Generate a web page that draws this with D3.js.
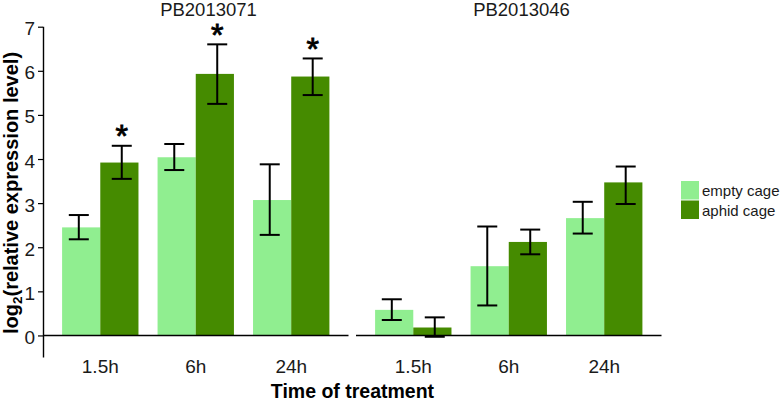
<!DOCTYPE html>
<html>
<head>
<meta charset="utf-8">
<script src="https://cdn.jsdelivr.net/npm/d3@7"></script>
<style>
  html, body { margin: 0; padding: 0; background: #fff; }
  svg { display: block; font-family: "Liberation Sans", Arial, Helvetica, sans-serif; }
</style>
</head>
<body>
<svg id="chart" width="784" height="402"></svg>
<script>
// ---------- data ----------
const genes = ["PB2013071", "PB2013046"];
const times = ["1.5h", "6h", "24h"];
const seriesNames = ["empty cage", "aphid cage"];
const yTicks = [0, 1, 2, 3, 4, 5, 6, 7];

// PB2013071
const g1Empty   = [2.45, 4.04, 3.07];
const g1EmptyLo = [2.18, 3.75, 2.28];
const g1EmptyHi = [2.73, 4.34, 3.88];
const g1Aphid   = [3.92, 5.93, 5.87];
const g1AphidLo = [3.55, 5.25, 5.45];
const g1AphidHi = [4.30, 6.60, 6.28];
const g1AphidSig = ["*", "*", "*"];

// PB2013046
const g2Empty   = [0.58, 1.57, 2.66];
const g2EmptyLo = [0.35, 0.68, 2.31];
const g2EmptyHi = [0.82, 2.47, 3.03];
const g2Aphid   = [0.18, 2.12, 3.47];
const g2AphidLo = [-0.03, 1.84, 2.98];
const g2AphidHi = [0.41, 2.40, 3.83];
const g2AphidSig = ["", "", ""];

const colors = ["#90EE90", "#458B00"];

// build table
function rows(gene, vals, lo, hi, sig, s) {
  return times.map((t, i) => ({ gene, time: t, series: s, value: vals[i], lo: lo[i], hi: hi[i], sig: sig ? sig[i] : "" }));
}
const data = [
  ...rows(genes[0], g1Empty, g1EmptyLo, g1EmptyHi, null, seriesNames[0]),
  ...rows(genes[0], g1Aphid, g1AphidLo, g1AphidHi, g1AphidSig, seriesNames[1]),
  ...rows(genes[1], g2Empty, g2EmptyLo, g2EmptyHi, null, seriesNames[0]),
  ...rows(genes[1], g2Aphid, g2AphidLo, g2AphidHi, g2AphidSig, seriesNames[1])
];

// ---------- layout ----------
const svg = d3.select("#chart");
const y = d3.scaleLinear().domain([-0.5, 7]).range([357.5, 26.7]);
const panelRanges = [[43, 348.5], [356, 661.5]];
const titleX = [208.5, 521.5];
const color = d3.scaleOrdinal().domain(seriesNames).range(colors);

genes.forEach((gene, gi) => {
  const [x0, x1] = panelRanges[gi];
  const x = d3.scaleBand().domain(times).range([x0, x1]).paddingInner(0.2).paddingOuter(0.2);
  const xs = d3.scaleBand().domain(seriesNames).range([0, x.bandwidth()]);
  const step = x.step();
  const errOffset = d3.scaleOrdinal().domain(seriesNames).range([-0.225 * step, 0.225 * step]);
  const g = svg.append("g");
  const pd = data.filter(d => d.gene === gene);

  // bars
  g.selectAll("rect.bar").data(pd).join("rect")
    .attr("class", "bar")
    .attr("x", d => x(d.time) + xs(d.series))
    .attr("width", xs.bandwidth())
    .attr("y", d => Math.min(y(d.value), y(0)))
    .attr("height", d => Math.abs(y(0) - y(d.value)))
    .attr("fill", d => color(d.series));

  // zero line
  g.append("line")
    .attr("x1", x0).attr("x2", x1)
    .attr("y1", y(0)).attr("y2", y(0))
    .attr("stroke", "#000").attr("stroke-width", 1.4);

  // error bars
  const cx = d => x(d.time) + x.bandwidth() / 2 + errOffset(d.series);
  const capW = 10;
  const eb = g.selectAll("g.err").data(pd).join("g").attr("class", "err")
    .attr("stroke", "#000").attr("stroke-width", 2).attr("fill", "none");
  eb.append("line").attr("x1", cx).attr("x2", cx).attr("y1", d => y(d.lo)).attr("y2", d => y(d.hi));
  eb.append("line").attr("x1", d => cx(d) - capW).attr("x2", d => cx(d) + capW).attr("y1", d => y(d.hi)).attr("y2", d => y(d.hi));
  eb.append("line").attr("x1", d => cx(d) - capW).attr("x2", d => cx(d) + capW).attr("y1", d => y(d.lo)).attr("y2", d => y(d.lo));

  // significance stars
  g.selectAll("text.sig").data(pd.filter(d => d.sig)).join("text")
    .attr("class", "sig")
    .attr("x", cx)
    .attr("y", d => y(d.hi) + 1.5)
    .attr("text-anchor", "middle")
    .attr("font-size", 32)
    .attr("fill", "#000")
    .attr("stroke", "#000").attr("stroke-width", 0.9)
    .text(d => d.sig);

  // x tick labels
  const xAxis = d3.axisBottom(x).tickSize(0).tickPadding(0);
  const xa = svg.append("g").attr("transform", `translate(0, ${y(-0.5)})`).call(xAxis);
  xa.select(".domain").remove();
  xa.selectAll("text")
    .attr("y", 15.5).attr("dy", 0)
    .attr("font-size", 19).attr("font-family", null).attr("fill", "#1a1a1a");

  // facet title
  svg.append("text")
    .attr("x", titleX[gi]).attr("y", 16)
    .attr("text-anchor", "middle")
    .attr("font-size", 18.5).attr("fill", "#1a1a1a")
    .text(gene);
});

// y axis (left panel only)
const yAxis = d3.axisLeft(y).tickValues(yTicks).tickSize(5).tickPadding(3).tickFormat(d3.format("d"));
const ya = svg.append("g").attr("transform", "translate(43,0)").call(yAxis);
ya.select(".domain").attr("stroke", "#000").attr("stroke-width", 1.4).attr("d", `M0.5,${y(7)}V${y(-0.5)}`);
ya.selectAll(".tick line").attr("stroke", "#000").attr("stroke-width", 1.2);
ya.selectAll(".tick text")
  .attr("font-size", 19).attr("font-family", null).attr("fill", "#1a1a1a")
  .attr("dy", "0.42em");

// axis titles
svg.append("text")
  .attr("x", 352.5).attr("y", 397.5)
  .attr("text-anchor", "middle")
  .attr("font-size", 19.5).attr("font-weight", "bold").attr("fill", "#000")
  .text("Time of treatment");

const yt = svg.append("text")
  .attr("transform", "translate(18,193) rotate(-90)")
  .attr("text-anchor", "middle")
  .attr("font-size", 20).attr("font-weight", "bold").attr("fill", "#000");
yt.append("tspan").text("log");
yt.append("tspan").attr("font-size", 13.5).attr("dy", 4).text("2");
yt.append("tspan").attr("dy", -4).text("(relative expression level)");

// legend
const lg = svg.append("g").attr("transform", "translate(681,181)");
seriesNames.forEach((s, i) => {
  lg.append("rect").attr("x", 0).attr("y", i * 19.5).attr("width", 18).attr("height", 18.5).attr("fill", color(s));
  lg.append("text").attr("x", 21).attr("y", i * 19.5 + 15).attr("font-size", 15).attr("fill", "#1a1a1a").text(s);
});
</script>
</body>
</html>
